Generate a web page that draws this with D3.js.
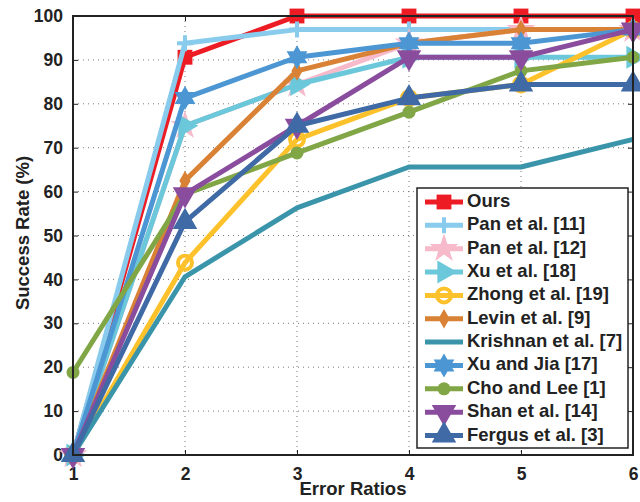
<!DOCTYPE html>
<html>
<head>
<meta charset="utf-8">
<script src="https://cdn.jsdelivr.net/npm/d3@7"></script>
<style>
  body { margin: 0; background: #fff; }
  text { font-family: "Liberation Sans", Arial, sans-serif; font-weight: bold; fill: #222; }
</style>
</head>
<body>
<div id="chart"></div>
<script>
// error ratios on the x axis
const ratios = [1, 2, 3, 4, 5, 6];
const yTicks = [0, 10, 20, 30, 40, 50, 60, 70, 80, 90, 100];

const methods = ['Ours', 'Pan et al. [11]', 'Pan et al. [12]', 'Xu et al. [18]', 'Zhong et al. [19]',
  'Levin et al. [9]', 'Krishnan et al. [7]', 'Xu and Jia [17]', 'Cho and Lee [1]', 'Shan et al. [14]', 'Fergus et al. [3]'];

// success rate (%) per method, one value per ratio
const ours     = [0, 90.6, 100, 100, 100, 100];
const pan11    = [0, 93.8, 96.9, 96.9, 96.9, 96.9];
const pan12    = [0, 75.0, 84.4, 93.8, 96.9, 96.9];
const xu18     = [0, 75.0, 84.4, 90.6, 90.6, 90.6];
const zhong    = [0, 43.8, 71.9, 81.3, 84.4, 96.9];
const levin    = [0, 62.5, 87.5, 93.8, 96.9, 96.9];
const krishnan = [0, 40.6, 56.3, 65.6, 65.6, 71.9];
const xuJia    = [0, 81.3, 90.6, 93.8, 93.8, 96.9];
const choLee   = [18.8, 59.4, 68.8, 78.1, 87.5, 90.6];
const shan     = [0, 59.4, 75.0, 90.6, 90.6, 96.9];
const fergus   = [0, 53.1, 75.0, 81.3, 84.4, 84.4];

const seriesValues = [ours, pan11, pan12, xu18, zhong, levin, krishnan, xuJia, choLee, shan, fergus];
const colors = ['#ed1c24', '#88cbec', '#f6bacb', '#6bc8da', '#fdc22b', '#d98236',
  '#3a95aa', '#4b96d3', '#80a645', '#8a4d9e', '#3f6aa5'];
const markers = ['square', 'plus', 'star', 'tright', 'ring', 'diamond', 'none', 'hexagram', 'dot', 'tdown', 'tup'];

const W = 640, H = 502;
const margin = { top: 16, right: 7, bottom: 47, left: 73 };
const width = W - margin.left - margin.right;
const height = H - margin.top - margin.bottom;

const svg = d3.select('#chart').append('svg')
  .attr('width', W).attr('height', H);
const g = svg.append('g').attr('transform', `translate(${margin.left},${margin.top})`);

const x = d3.scaleLinear().domain([1, 6]).range([0, width]);
const y = d3.scaleLinear().domain([0, 100]).range([height, 0]);

// dotted grid
g.append('g').selectAll('line').data(yTicks.slice(1, -1)).enter().append('line')
  .attr('x1', 0).attr('x2', width).attr('y1', d => y(d)).attr('y2', d => y(d))
  .attr('stroke', '#777').attr('stroke-width', 1).attr('stroke-dasharray', '1,4');
g.append('g').selectAll('line').data(ratios.slice(1, -1)).enter().append('line')
  .attr('y1', 0).attr('y2', height).attr('x1', d => x(d)).attr('x2', d => x(d))
  .attr('stroke', '#777').attr('stroke-width', 1).attr('stroke-dasharray', '1,4');

// axes, ticks pointing inward
const axisStyle = sel => {
  sel.select('.domain').remove();
  sel.selectAll('line').attr('stroke', '#222').attr('stroke-width', 1);
  sel.selectAll('text').style('font-size', '17.5px').attr('fill', '#222');
};
g.append('g').attr('transform', `translate(0,${height})`)
  .call(d3.axisBottom(x).tickValues(ratios).tickFormat(d3.format('d')).tickSizeInner(-5).tickPadding(13))
  .call(axisStyle);
g.append('g')
  .call(d3.axisTop(x).tickValues(ratios).tickFormat('').tickSizeInner(-5))
  .call(axisStyle);
g.append('g')
  .call(d3.axisLeft(y).tickValues(yTicks).tickSizeInner(-5).tickPadding(10))
  .call(axisStyle);
g.append('g').attr('transform', `translate(${width},0)`)
  .call(d3.axisRight(y).tickValues(yTicks).tickFormat('').tickSizeInner(-5))
  .call(axisStyle);

// marker shapes
function hexagram(r) {
  const tri = a => d3.range(3).map(i => {
    const t = a + i * 2 * Math.PI / 3;
    return [r * Math.sin(t), -r * Math.cos(t)];
  });
  return 'M' + tri(0).join('L') + 'Z M' + tri(Math.PI).join('L') + 'Z';
}
function drawMarker(sel, type, color) {
  const sym = (t, s) => sel.append('path').attr('d', d3.symbol(t, s)()).attr('fill', color);
  switch (type) {
    case 'square': sym(d3.symbolSquare, 220); break;
    case 'plus':
      sel.append('path').attr('d', 'M-8,0H8M0,-8V8').attr('stroke', color).attr('stroke-width', 4); break;
    case 'star': sym(d3.symbolStar, 260); break;
    case 'tright': sym(d3.symbolTriangle, 230).attr('transform', 'rotate(90)'); break;
    case 'tdown': sym(d3.symbolTriangle, 260).attr('transform', 'rotate(180)'); break;
    case 'tup': sym(d3.symbolTriangle, 260); break;
    case 'ring':
      sel.append('circle').attr('r', 7).attr('fill', 'none').attr('stroke', color).attr('stroke-width', 4); break;
    case 'dot': sel.append('circle').attr('r', 6.5).attr('fill', color); break;
    case 'diamond': sym(d3.symbolDiamond, 110); break;
    case 'hexagram':
      sel.append('path').attr('d', hexagram(12)).attr('fill', color); break;
  }
}

const line = d3.line().x((d, i) => x(ratios[i])).y(d => y(d));

seriesValues.forEach((vals, k) => {
  const sg = g.append('g');
  sg.append('path').datum(vals).attr('d', line)
    .attr('fill', 'none').attr('stroke', colors[k]).attr('stroke-width', 5).attr('stroke-linejoin', 'round');
  vals.forEach((v, i) => {
    const m = sg.append('g').attr('transform', `translate(${x(ratios[i])},${y(v)})`);
    drawMarker(m, markers[k], colors[k]);
  });
});

// frame
g.append('path').attr('d', `M0,0V${height}H${width}V0Z`)
  .attr('fill', 'none').attr('stroke', '#222').attr('stroke-width', 2);

// axis titles
svg.append('text').attr('x', 353).attr('y', 495).attr('text-anchor', 'middle')
  .style('font-size', '18.5px').text('Error Ratios');
svg.append('text').attr('transform', 'translate(29,233) rotate(-90)').attr('text-anchor', 'middle')
  .style('font-size', '18.5px').text('Success Rate (%)');

// legend
const lg = svg.append('g').attr('transform', 'translate(417,188)');
lg.append('rect').attr('width', 211).attr('height', 260)
  .attr('fill', '#fff').attr('stroke', '#222').attr('stroke-width', 1.5);
methods.forEach((name, k) => {
  const row = lg.append('g').attr('transform', `translate(0,${14 + k * 23.35})`);
  row.append('line').attr('x1', 8).attr('x2', 46).attr('stroke', colors[k]).attr('stroke-width', 5);
  drawMarker(row.append('g').attr('transform', 'translate(27,0)'), markers[k], colors[k]);
  row.append('text').attr('x', 50).attr('y', 5).style('font-size', '18.5px').text(name);
});
</script>
</body>
</html>
